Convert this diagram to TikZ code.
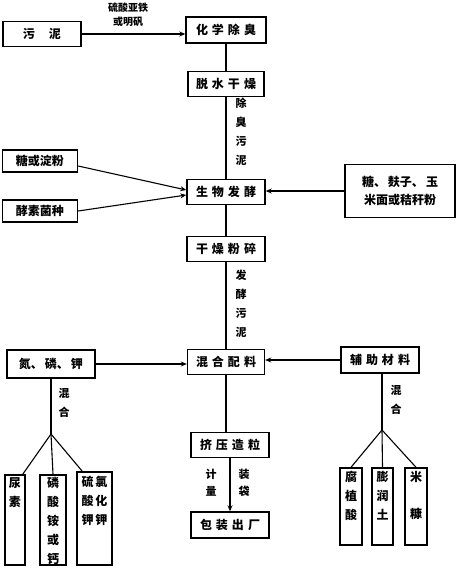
\documentclass[tikz,border=0pt]{standalone}
\usepackage{fontspec}
\setmainfont{Noto Sans CJK SC}
\usetikzlibrary{arrows.meta}
\newcommand\gp{\hspace{4pt}}
\begin{document}
\begin{tikzpicture}[x=1pt,y=-1pt,
 box/.style={draw,line width=1.4pt,inner sep=0pt,font=\fontsize{12}{14}\selectfont\bfseries},
 vbox/.style={draw,line width=1.4pt,inner sep=0pt},
 vtxt/.style={anchor=north,inner sep=0pt,align=center,font=\fontsize{12}{19}\selectfont\bfseries},
 lbl/.style={font=\fontsize{11}{19}\selectfont\bfseries,align=center,inner sep=0pt},
 ln/.style={line width=1.1pt},
 arr/.style={line width=1.1pt,-{Stealth[length=6pt,width=5pt]}}]
\useasboundingbox (0,0) rectangle (458,573);

% main column
\node[box,minimum width=78pt,minimum height=25pt] (wn) at (42,34) {污\hspace{14pt}泥};
\node[box,minimum width=80pt,minimum height=26pt] (hx) at (226,30) {化\gp 学\gp 除\gp 臭};
\node[box,minimum width=76pt,minimum height=25pt] (ts) at (226,84) {脱\gp 水\gp 干\gp 燥};
\node[box,minimum width=78pt,minimum height=25pt] (sw) at (226,192) {生\gp 物\gp 发\gp 酵};
\node[box,minimum width=75pt,minimum height=22pt] (tf) at (40,161) {糖或淀粉};
\node[box,minimum width=75pt,minimum height=22pt] (jm) at (40,211) {酵素菌种};
\node[box,minimum width=110pt,minimum height=53pt,align=center,font=\fontsize{12}{18}\selectfont\bfseries] (rb) at (400,191) {糖、\,麸子、\,玉\\米面或秸秆粉};
\node[box,minimum width=78pt,minimum height=25pt] (gf) at (226,249) {干\gp 燥\gp 粉\gp 碎};
\node[box,minimum width=77pt,minimum height=25pt] (hh) at (226,362) {混\gp 合\gp 配\gp 料};
\node[box,minimum width=88pt,minimum height=28pt] (dl) at (51,364) {氮、\,磷、\,钾};
\node[box,minimum width=78pt,minimum height=26pt] (fz) at (380,360) {辅\gp 助\gp 材\gp 料};
\node[box,minimum width=78pt,minimum height=25pt] (jy) at (230,445) {挤\gp 压\gp 造\gp 粒};
\node[box,minimum width=78pt,minimum height=26pt] (bz) at (230,525) {包\gp 装\gp 出\gp 厂};

% left bottom boxes
\node[vbox,minimum width=20pt,minimum height=90pt] (nb) at (15,520) {};
\node[vtxt] (nbt) at ([yshift=-3pt]nb.north) {尿\\素};
\node[vbox,minimum width=26pt,minimum height=90pt] (pc) at (53,520) {};
\node[vtxt] (pct) at ([yshift=-3pt]pc.north) {磷\\酸\\铵\\或\\钙};
\node[vbox,minimum width=35pt,minimum height=93pt] (kl) at (94.5,518.5) {};
\node[vtxt] (klt) at ([yshift=-5pt]kl.north) {硫\,氯\\酸\,化\\钾\,钾};

% right bottom boxes
\node[vbox,minimum width=22pt,minimum height=77pt] (fs) at (351,506.5) {};
\node[vtxt] (fst) at ([yshift=-4pt]fs.north) {腐\\植\\酸};
\node[vbox,minimum width=21pt,minimum height=77pt] (pr) at (382.5,506.5) {};
\node[vtxt] (prt) at ([yshift=-4pt]pr.north) {膨\\润\\土};
\node[vbox,minimum width=22pt,minimum height=77pt] (mk) at (416,506.5) {};
\node[vtxt] (mkt) at ([yshift=-4pt]mk.north) {米\\[18pt]糠};

% branch points
\coordinate (bl) at (51,434);
\coordinate (br) at (382,430);

% labels
\node[lbl,font=\fontsize{10}{14}\selectfont\bfseries] (l1) at (128,15) {硫酸亚铁\\或明矾};
\node[lbl] (l2) at (241,132) {除\\臭\\污\\泥};
\node[lbl] (l3) at (241,304) {发\\酵\\污\\泥};
\node[lbl] (l4) at (64,403) {混\\合};
\node[lbl] (l5) at (396,400) {混\\合};
\node[lbl,font=\fontsize{11}{17}\selectfont\bfseries] (l6) at (211,483) {计\\量};
\node[lbl,font=\fontsize{11}{17}\selectfont\bfseries] (l7) at (244,483) {装\\袋};

% connectors
\draw[arr] (wn.east) -- (wn.east -| hx.west);
\draw[ln] (hx) -- (ts);
\draw[ln] (ts) -- (sw);
\draw[ln] (sw) -- (gf);
\draw[ln] (gf) -- (hh);
\draw[ln] (hh.south) -- (hh.south |- jy.north);
\draw[arr] (jy) -- (bz);
\draw[arr] ([yshift=-5pt]tf.east) -- ([yshift=2pt]sw.west);
\draw[arr] (jm.east) -- ([yshift=-3pt]sw.west);
\draw[arr] (rb.west) -- (rb.west -| sw.east);
\draw[arr] (dl.east) -- (dl.east -| hh.west);
\draw[arr] (fz.west) -- (fz.west -| hh.east);
\draw[ln] (dl.south) -- (bl);
\draw[ln] (bl) -- ([xshift=-3pt]nb.north east);
\draw[ln] (bl) -- (pc.north);
\draw[ln] (bl) -- ([xshift=6pt]kl.north west);
\draw[ln] (fz.south -| br) -- (br);
\draw[ln] (br) -- (fs.north);
\draw[ln] (br) -- (pr.north);
\draw[ln] (br) -- (mk.north);
\end{tikzpicture}
\end{document}
